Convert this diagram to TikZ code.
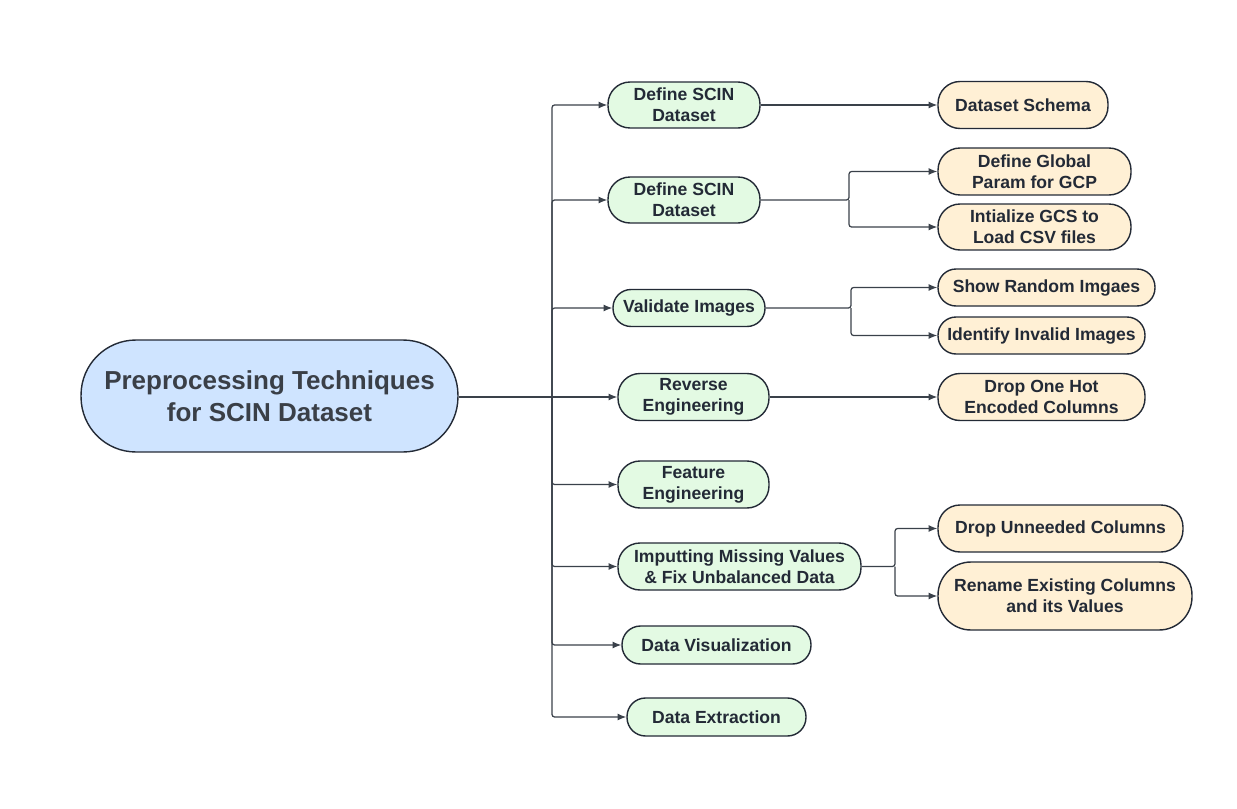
\documentclass[tikz,border=0pt]{standalone}
\usepackage{fontspec}
\setmainfont{Liberation Sans}
\usetikzlibrary{arrows.meta}
\definecolor{rootblue}{HTML}{CFE4FF}
\definecolor{stagegreen}{HTML}{E3FAE3}
\definecolor{leafyellow}{HTML}{FFF0D5}
\definecolor{ink}{HTML}{232A36}
\definecolor{rootink}{HTML}{3A3F47}
\definecolor{wire}{HTML}{3A414A}
\begin{document}
\begin{tikzpicture}[x=0.02cm,y=-0.02cm,
  box/.style={draw=ink,line width=0.8pt,text=ink,align=center,inner sep=0pt,
    font=\bfseries\fontsize{10}{11.9}\selectfont},
  stage/.style={box,fill=stagegreen,rounded corners=0.44cm},
  leaf/.style={box,fill=leafyellow,rounded corners=0.44cm},
  link/.style={draw=wire,line width=0.7pt,rounded corners=1.5pt,-{Latex[length=5pt,width=4pt]}}]
\useasboundingbox (0,0) rectangle (1237,808);

\node (root) at (269.5,396) [box,fill=rootblue,text=rootink,minimum width=7.54cm,minimum height=2.24cm,rounded corners=1.1cm,font=\bfseries\fontsize{14.8}{18.2}\selectfont] {Preprocessing Techniques\\for SCIN Dataset};

\node (def1) at (684,105) [stage,minimum width=3.04cm,minimum height=0.92cm] {Define SCIN\\Dataset};
\node (def2) at (684,200) [stage,minimum width=3.04cm,minimum height=0.92cm] {Define SCIN\\Dataset};
\node (valid) at (689,308) [stage,minimum width=3.04cm,minimum height=0.74cm,rounded corners=0.36cm] {Validate Images};
\node (reverse) at (693.5,397) [stage,minimum width=3.02cm,minimum height=0.94cm] {Reverse\\Engineering};
\node (feature) at (693.5,484.5) [stage,minimum width=3.02cm,minimum height=0.94cm] {Feature\\Engineering};
\node (impute) at (739.5,566.5) [stage,minimum width=4.86cm,minimum height=0.94cm] {Imputting Missing Values\\\& Fix Unbalanced Data};
\node (visual) at (716.5,645) [stage,minimum width=3.78cm,minimum height=0.76cm,rounded corners=0.37cm] {Data Visualization};
\node (extract) at (716.5,717) [stage,minimum width=3.58cm,minimum height=0.76cm,rounded corners=0.37cm] {Data Extraction};

\node (schema) at (1023,105) [leaf,minimum width=3.4cm,minimum height=0.94cm] {Dataset Schema};
\node (param) at (1034.5,171.5) [leaf,minimum width=3.86cm,minimum height=0.94cm] {Define Global\\Param for GCP};
\node (gcs) at (1034.5,227) [leaf,minimum width=3.86cm,minimum height=0.92cm] {Intialize GCS to\\Load CSV files};
\node (random) at (1046.5,287.5) [leaf,minimum width=4.34cm,minimum height=0.74cm,rounded corners=0.36cm] {Show Random Imgaes};
\node (invalid) at (1041.5,335.5) [leaf,minimum width=4.14cm,minimum height=0.74cm,rounded corners=0.36cm] {Identify Invalid Images};
\node (onehot) at (1041.5,397) [leaf,minimum width=4.14cm,minimum height=0.94cm] {Drop One Hot\\Encoded Columns};
\node (unneeded) at (1060.5,528.5) [leaf,minimum width=4.9cm,minimum height=0.94cm] {Drop Unneeded Columns};
\node (rename) at (1065,596) [leaf,minimum width=5.08cm,minimum height=1.36cm,rounded corners=0.66cm] {Rename Existing Columns\\and its Values};

% trunk
\coordinate (hub) at (552,397);
\draw [draw=wire,line width=0.7pt] (root.east |- hub) -- (hub);
\draw [link] (hub) |- (def1);
\draw [link] (hub) |- (def2);
\draw [link] (hub) |- (valid);
\draw [link] (hub) -- (reverse);
\draw [link] (hub) |- (feature);
\draw [link] (hub) |- (impute);
\draw [link] (hub) |- (visual);
\draw [link] (hub) |- (extract);

% branches
\coordinate (fork2) at (849,200);
\coordinate (fork3) at (851,308);
\coordinate (fork6) at (895,566.5);
\draw [link] (def1) -- (schema);
\draw [link] (def2.east) -- (fork2) |- (param);
\draw [link] (fork2) |- (gcs);
\draw [link] (valid.east) -- (fork3) |- (random);
\draw [link] (fork3) |- (invalid);
\draw [link] (reverse) -- (onehot);
\draw [link] (impute.east) -- (fork6) |- (unneeded);
\draw [link] (fork6) |- (rename);

\end{tikzpicture}
\end{document}
